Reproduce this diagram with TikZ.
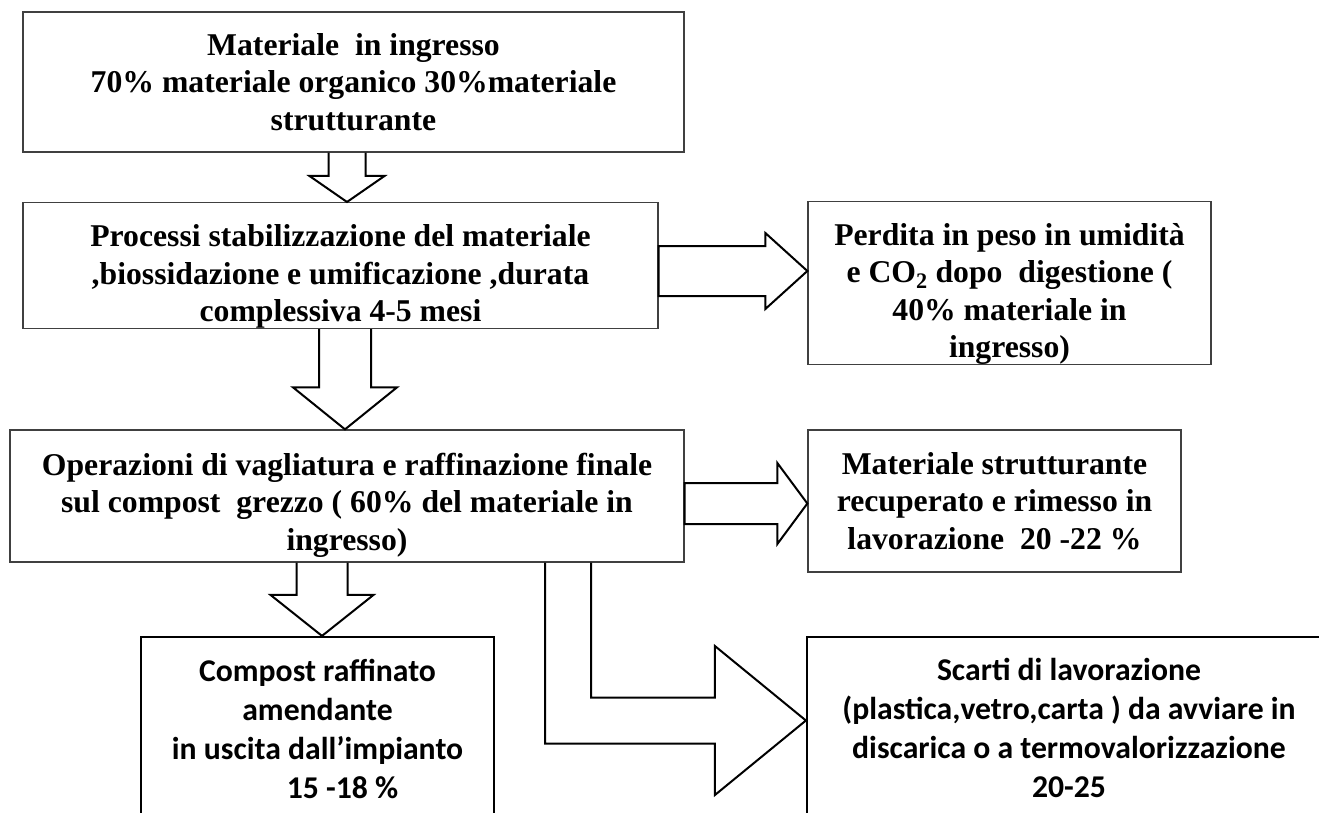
\documentclass[tikz,border=0pt]{standalone}
\usepackage{fontspec}
\setmainfont{Liberation Serif}
\newfontfamily\calibrifont{Carlito}
\usetikzlibrary{calc}

\begin{document}
\begin{tikzpicture}[x=1pt, y=-1pt, line join=miter,
box/.style ={draw=black!75, line width=1.3pt, inner sep=0pt, align=center,
  font=\fontsize{31.7}{37.5}\selectfont\bfseries},
outbox/.style ={draw=black, line width=2.2pt, inner sep=0pt, align=center,
  font=\calibrifont\fontsize{31.7}{39}\selectfont\bfseries},
fat/.style ={draw=black, line width=2pt},
fatdown/.style n args={3}{to path={let \p1=(\tikztostart), \p2=(\tikztotarget) in
  (\x2-#1,\y1) -- (\x2-#1,\y2+#3) -- (\x2-#2,\y2+#3) -- (\x2,\y2)
  -- (\x2+#2,\y2+#3) -- (\x2+#1,\y2+#3) -- (\x2+#1,\y1)}},
fatright/.style n args={3}{to path={let \p1=(\tikztostart), \p2=(\tikztotarget) in
  (\x1,\y2+#1) -- (\x2-#3,\y2+#1) -- (\x2-#3,\y2+#2) -- (\x2,\y2)
  -- (\x2-#3,\y2-#2) -- (\x2-#3,\y2-#1) -- (\x1,\y2-#1) -- cycle}},
fatturn/.style n args={3}{to path={let \p1=(\tikztostart), \p2=(\tikztotarget) in
  (\x1-#1,\y1) -- (\x1-#1,\y2-#1) -- (\x2-#3,\y2-#1) -- (\x2-#3,\y2-#2) -- (\x2,\y2)
  -- (\x2-#3,\y2+#2) -- (\x2-#3,\y2+#1) -- (\x1+#1,\y2+#1) -- (\x1+#1,\y1)}}]
\useasboundingbox (0,0) rectangle (1319,812);

\node[box, minimum width=661pt, minimum height=140pt] (ingresso) at (353.5,82)
  {Materiale\ \ in ingresso\\70\% materiale organico 30\%materiale\\strutturante};
\node[box, minimum width=635pt, minimum height=125pt] (processi) at (340.5,265.5)
  {\rule{0pt}{44pt}Processi stabilizzazione del materiale\\,biossidazione e umificazione ,durata\\complessiva 4-5 mesi};
\node[box, minimum width=403pt, minimum height=160pt] (perdita) at (1009.5,283)
  {\rule{0pt}{44pt}Perdita in peso in umidità\\e CO\textsubscript{2} dopo\ \ digestione (\\40\% materiale in\\ingresso)};
\node[box, minimum width=674pt, minimum height=132pt] (operazioni) at (347,496)
  {\rule{0pt}{40pt}Operazioni di vagliatura e raffinazione finale\\sul compost\ \ grezzo ( 60\% del materiale in\\ingresso)};
\node[box, minimum width=373pt, minimum height=142pt] (strutt) at (994.5,501)
  {Materiale strutturante\\recuperato e rimesso in\\lavorazione\ \ 20 -22 \%};
\node[outbox, minimum width=353pt, minimum height=184pt] (compost) at (317.5,729)
  {Compost raffinato\\amendante\\in uscita dall’impianto\\\hspace*{50pt}15 -18 \%};
\node[outbox, minimum width=524pt, minimum height=182pt] (scarti) at (1069,728)
  {Scarti di lavorazione\\(plastica,vetro,carta ) da avviare in\\discarica o a termovalorizzazione\\20-25};

% block arrows
\draw[fat] (ingresso.south) to[fatdown={18.5pt}{37.5pt}{26pt}] ($(processi.north)+(6.5,0)$);
\draw[fat] (processi.south) to[fatdown={26pt}{52pt}{42pt}] ($(operazioni.north)+(-2,0)$);
\draw[fat] (operazioni.south) to[fatdown={25.5pt}{51.5pt}{41pt}] ($(compost.north)+(4.5,0)$);
\draw[fat] (processi.east) to[fatright={25pt}{38pt}{42pt}] ($(perdita.west)+(0,-12)$);
\draw[fat] (operazioni.east) to[fatright={20.5pt}{40.5pt}{30pt}] ($(strutt.west)+(0,2.5)$);
\draw[fat] ($(operazioni.south)+(221,0)$) to[fatturn={23pt}{74.5pt}{91pt}] ($(scarti.west)+(0,-7.5)$);
\end{tikzpicture}
\end{document}
